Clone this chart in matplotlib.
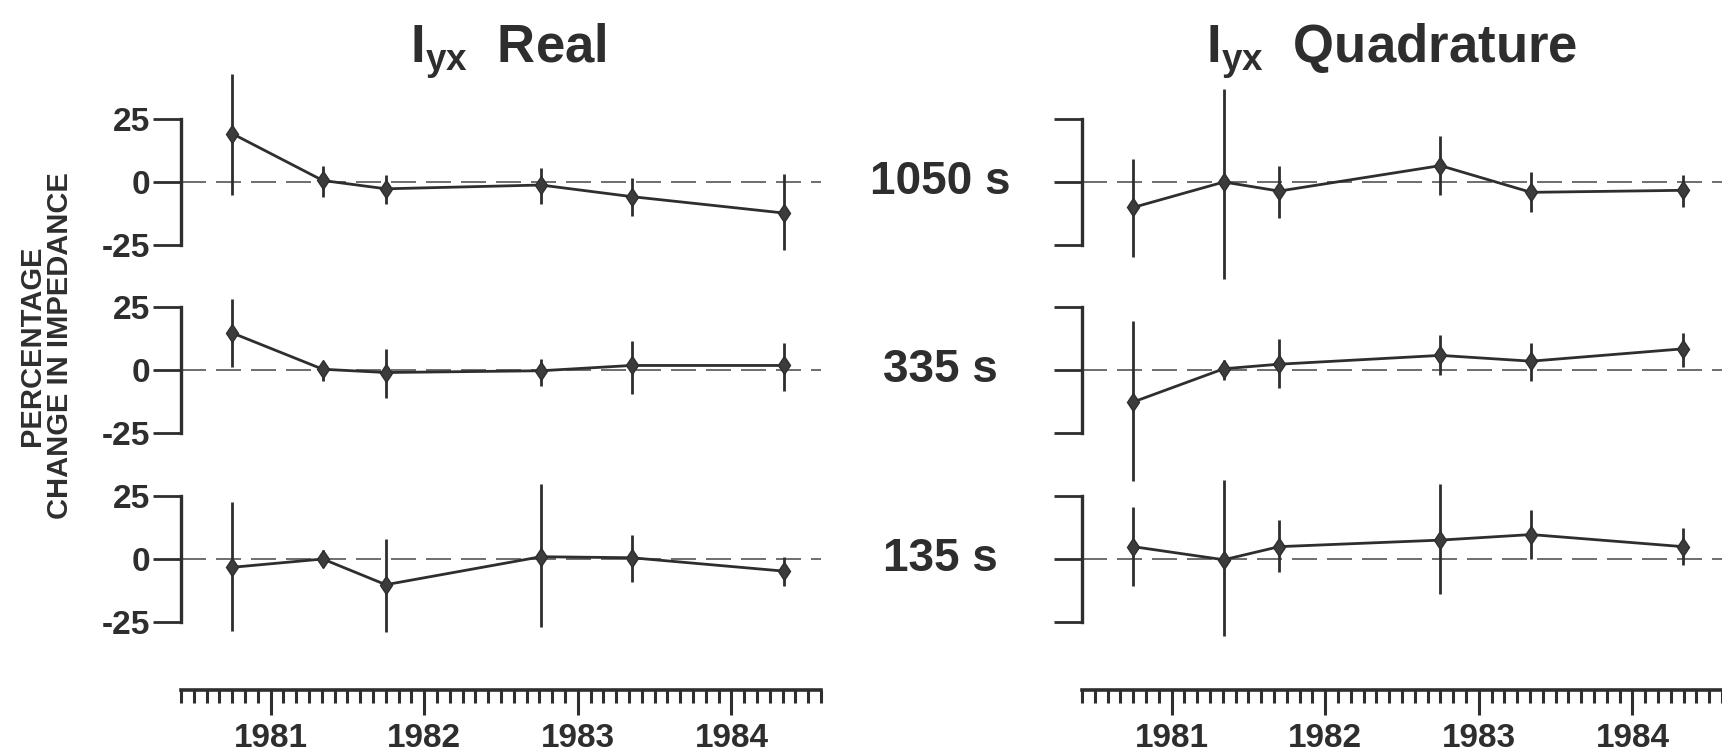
import numpy as np
import matplotlib
matplotlib.use('Agg')
import matplotlib.pyplot as plt
from matplotlib.ticker import FixedLocator

plt.rcParams['font.family'] = ['Liberation Sans', 'DejaVu Sans']
plt.rcParams['font.weight'] = 'bold'
plt.rcParams['mathtext.fontset'] = 'custom'
plt.rcParams['mathtext.rm'] = 'Liberation Sans:bold'
plt.rcParams['mathtext.it'] = 'Liberation Sans:bold'
plt.rcParams['mathtext.bf'] = 'Liberation Sans:bold'

INK = '#2e2e2e'

periods = ['1050 s', '335 s', '135 s']
years = [1981, 1982, 1983, 1984]
year_labels = ['1981', '1982', '1983', '1984']
yticks = [-25, 0, 25]
ytick_labels = ['-25', '0', '25']

dates_real = [1980.75, 1981.34, 1981.75, 1982.76, 1983.35, 1984.34]
dates_quad = [1980.75, 1981.34, 1981.70, 1982.75, 1983.34, 1984.33]

# Real part: value, lower and upper end of the error bar (percent)
real_1050 = [19.2, 0.6, -2.7, -1.2, -5.8, -12.3]
real_1050_lo = [-5.0, -6.0, -8.8, -8.8, -13.6, -27.0]
real_1050_hi = [42.7, 6.4, 2.6, 5.6, 1.5, 3.0]

real_335 = [14.7, 0.3, -1.0, -0.3, 1.8, 1.8]
real_335_lo = [1.0, -4.5, -11.0, -6.4, -9.5, -8.3]
real_335_hi = [28.3, 3.0, 8.3, 4.5, 11.4, 10.6]

real_135 = [-3.3, 0.0, -10.2, 0.9, 0.5, -4.8]
real_135_lo = [-28.6, -3.3, -29.0, -26.8, -9.0, -10.6]
real_135_hi = [22.7, 3.5, 8.0, 29.7, 9.5, 0.9]

# Quadrature part
quad_1050 = [-10.1, 0.0, -3.6, 6.5, -4.1, -3.3]
quad_1050_lo = [-29.8, -38.5, -14.2, -5.1, -11.9, -9.8]
quad_1050_hi = [9.2, 37.0, 6.2, 18.3, 3.8, 2.7]

quad_335 = [-12.7, 0.5, 2.3, 5.8, 3.5, 8.4]
quad_335_lo = [-43.9, -3.8, -7.3, -2.0, -4.3, 1.2]
quad_335_hi = [19.4, 4.1, 12.2, 13.8, 10.7, 14.5]

quad_135 = [4.9, -0.3, 4.9, 7.5, 9.7, 4.9]
quad_135_lo = [-10.9, -30.7, -5.2, -13.8, 0.0, -2.2]
quad_135_hi = [20.5, 31.4, 15.3, 29.9, 19.5, 12.4]

real_rows = [(real_1050, real_1050_lo, real_1050_hi),
             (real_335, real_335_lo, real_335_hi),
             (real_135, real_135_lo, real_135_hi)]
quad_rows = [(quad_1050, quad_1050_lo, quad_1050_hi),
             (quad_335, quad_335_lo, quad_335_hi),
             (quad_135, quad_135_lo, quad_135_hi)]

W, H = 1722, 752
fig = plt.figure(figsize=(W / 100, H / 100), dpi=100)

x_lim = (1980 + 5 / 12, 1984 + 7 / 12)
col_left = [181, 1082]
col_width = 640
row_zero = [182, 370, 559]
px_per_unit = 2.52
half = 37.5


def fx(px):
    return px / W


def fy(px):
    return 1 - px / H


for col, (dates, rows) in enumerate([(dates_real, real_rows), (dates_quad, quad_rows)]):
    for r, (vals, lo, hi) in enumerate(rows):
        top = row_zero[r] - half * px_per_unit
        ax = fig.add_axes([fx(col_left[col]), fy(top + 2 * half * px_per_unit),
                           col_width / W, 2 * half * px_per_unit / H])
        ax.set_xlim(x_lim)
        ax.set_ylim(-half, half)
        ax.patch.set_visible(False)
        for s in ['top', 'right', 'bottom']:
            ax.spines[s].set_visible(False)
        ax.spines['left'].set_bounds(-25, 25)
        ax.spines['left'].set_linewidth(2.4)
        ax.spines['left'].set_color(INK)
        ax.set_xticks([])
        ax.set_yticks(yticks)
        if col == 0:
            ax.set_yticklabels(ytick_labels, fontsize=24, fontweight='bold', color=INK)
        else:
            ax.set_yticklabels([])
        ax.tick_params(axis='y', length=20, width=2.0, color=INK, pad=2)

        ax.axhline(0, color='#555555', lw=1.2, dashes=(15, 6), zorder=1)
        ax.vlines(dates, lo, hi, color=INK, lw=2.0, clip_on=False, zorder=2)
        ax.plot(dates, vals, color=INK, lw=2.0, marker='d', ms=9.5, mew=1.0,
                markerfacecolor='#3c3c3c', markeredgecolor=INK, clip_on=False, zorder=3)

    # time axis below each column
    axx = fig.add_axes([fx(col_left[col]), fy(690), col_width / W, 0.01])
    axx.set_xlim(x_lim)
    axx.patch.set_visible(False)
    for s in ['top', 'right', 'left']:
        axx.spines[s].set_visible(False)
    axx.spines['bottom'].set_linewidth(2.6)
    axx.spines['bottom'].set_color(INK)
    axx.set_yticks([])
    axx.xaxis.set_major_locator(FixedLocator(years))
    axx.xaxis.set_minor_locator(FixedLocator(np.arange(50 + 1) / 12 + x_lim[0]))
    axx.set_xticklabels(year_labels, fontsize=24, fontweight='bold', color=INK)
    axx.tick_params(axis='x', which='major', length=18, width=2.2, color=INK, pad=6)
    axx.tick_params(axis='x', which='minor', length=9, width=2.2, color=INK)

# titles
fig.text(fx(508), fy(63), r'I$_{\mathrm{yx}}$  Real', fontsize=38, fontweight='bold',
         color=INK, ha='center', va='baseline')
fig.text(fx(1392), fy(63), r'I$_{\mathrm{yx}}$  Quadrature', fontsize=38, fontweight='bold',
         color=INK, ha='center', va='baseline')

# period labels between the columns
for r, name in enumerate(periods):
    fig.text(fx(940), fy(row_zero[r]), name, fontsize=33, fontweight='bold',
             color=INK, ha='center', va='center')

# y label
fig.text(fx(32), fy(346), 'PERCENTAGE', rotation=90, fontsize=21, fontweight='bold',
         color=INK, ha='center', va='center')
fig.text(fx(60), fy(346), 'CHANGE IN IMPEDANCE', rotation=90, fontsize=21, fontweight='bold',
         color=INK, ha='center', va='center')

fig.savefig('out.png', dpi=100)
